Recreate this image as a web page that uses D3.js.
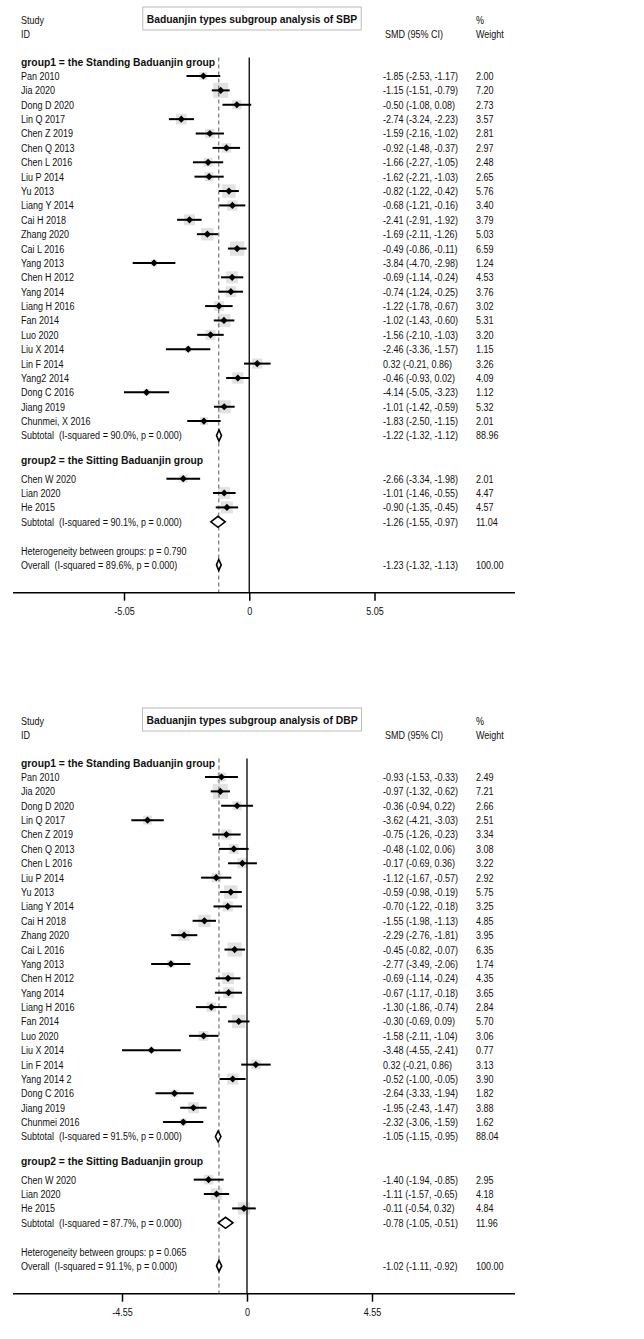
<!DOCTYPE html>
<html>
<head>
<meta charset="utf-8">
<script src="https://cdn.jsdelivr.net/npm/d3@7"></script>
<style>
  body { margin: 0; background: #fff; }
  text { font-family: 'Liberation Sans', Arial, sans-serif; fill: #111; white-space: pre; }
</style>
</head>
<body>
<div id="chart"></div>
<script>
// ---- data: SBP ----
var sbpNames1 = ['Pan 2010','Jia 2020','Dong D 2020','Lin Q 2017','Chen Z 2019','Chen Q 2013','Chen L 2016',
  'Liu P 2014','Yu 2013','Liang Y 2014','Cai H 2018','Zhang 2020','Cai L 2016','Yang 2013','Chen H 2012',
  'Yang 2014','Liang H 2016','Fan 2014','Luo 2020','Liu X 2014','Lin F 2014','Yang2 2014','Dong C 2016',
  'Jiang 2019','Chunmei, X 2016'];
var sbpSmd1 = [[-1.85,-2.53,-1.17],[-1.15,-1.51,-0.79],[-0.50,-1.08,0.08],[-2.74,-3.24,-2.23],[-1.59,-2.16,-1.02],
  [-0.92,-1.48,-0.37],[-1.66,-2.27,-1.05],[-1.62,-2.21,-1.03],[-0.82,-1.22,-0.42],[-0.68,-1.21,-0.16],
  [-2.41,-2.91,-1.92],[-1.69,-2.11,-1.26],[-0.49,-0.86,-0.11],[-3.84,-4.70,-2.98],[-0.69,-1.14,-0.24],
  [-0.74,-1.24,-0.25],[-1.22,-1.78,-0.67],[-1.02,-1.43,-0.60],[-1.56,-2.10,-1.03],[-2.46,-3.36,-1.57],
  [0.32,-0.21,0.86],[-0.46,-0.93,0.02],[-4.14,-5.05,-3.23],[-1.01,-1.42,-0.59],[-1.83,-2.50,-1.15]];
var sbpWeight1 = [2.00,7.20,2.73,3.57,2.81,2.97,2.48,2.65,5.76,3.40,3.79,5.03,6.59,1.24,4.53,3.76,3.02,5.31,
  3.20,1.15,3.26,4.09,1.12,5.32,2.01];
var sbpNames2 = ['Chen W 2020','Lian 2020','He 2015'];
var sbpSmd2 = [[-2.66,-3.34,-1.98],[-1.01,-1.46,-0.55],[-0.90,-1.35,-0.45]];
var sbpWeight2 = [2.01,4.47,4.57];
var sbpPooled = [[-1.22,-1.32,-1.12],[-1.26,-1.55,-0.97],[-1.23,-1.32,-1.13]]; // subtotal1, subtotal2, overall
var sbpPooledWeight = [88.96,11.04,100.00];
var sbpPooledLabels = ['Subtotal  (I-squared = 90.0%, p = 0.000)','Subtotal  (I-squared = 90.1%, p = 0.000)',
  'Overall  (I-squared = 89.6%, p = 0.000)'];
var sbpHet = 'Heterogeneity between groups: p = 0.790';
var sbpTicks = [-5.05, 0, 5.05];

// ---- data: DBP ----
var dbpNames1 = ['Pan 2010','Jia 2020','Dong D 2020','Lin Q 2017','Chen Z 2019','Chen Q 2013','Chen L 2016',
  'Liu P 2014','Yu 2013','Liang Y 2014','Cai H 2018','Zhang 2020','Cai L 2016','Yang 2013','Chen H 2012',
  'Yang 2014','Liang H 2016','Fan 2014','Luo 2020','Liu X 2014','Lin F 2014','Yang 2014 2','Dong C 2016',
  'Jiang 2019','Chunmei 2016'];
var dbpSmd1 = [[-0.93,-1.53,-0.33],[-0.97,-1.32,-0.62],[-0.36,-0.94,0.22],[-3.62,-4.21,-3.03],[-0.75,-1.26,-0.23],
  [-0.48,-1.02,0.06],[-0.17,-0.69,0.36],[-1.12,-1.67,-0.57],[-0.59,-0.98,-0.19],[-0.70,-1.22,-0.18],
  [-1.55,-1.98,-1.13],[-2.29,-2.76,-1.81],[-0.45,-0.82,-0.07],[-2.77,-3.49,-2.06],[-0.69,-1.14,-0.24],
  [-0.67,-1.17,-0.18],[-1.30,-1.86,-0.74],[-0.30,-0.69,0.09],[-1.58,-2.11,-1.04],[-3.48,-4.55,-2.41],
  [0.32,-0.21,0.86],[-0.52,-1.00,-0.05],[-2.64,-3.33,-1.94],[-1.95,-2.43,-1.47],[-2.32,-3.06,-1.59]];
var dbpWeight1 = [2.49,7.21,2.66,2.51,3.34,3.08,3.22,2.92,5.75,3.25,4.85,3.95,6.35,1.74,4.35,3.65,2.84,5.70,
  3.06,0.77,3.13,3.90,1.82,3.88,1.62];
var dbpNames2 = ['Chen W 2020','Lian 2020','He 2015'];
var dbpSmd2 = [[-1.40,-1.94,-0.85],[-1.11,-1.57,-0.65],[-0.11,-0.54,0.32]];
var dbpWeight2 = [2.95,4.18,4.84];
var dbpPooled = [[-1.05,-1.15,-0.95],[-0.78,-1.05,-0.51],[-1.02,-1.11,-0.92]];
var dbpPooledWeight = [88.04,11.96,100.00];
var dbpPooledLabels = ['Subtotal  (I-squared = 91.5%, p = 0.000)','Subtotal  (I-squared = 87.7%, p = 0.000)',
  'Overall  (I-squared = 91.1%, p = 0.000)'];
var dbpHet = 'Heterogeneity between groups: p = 0.065';
var dbpTicks = [-4.55, 0, 4.55];

var groupLabels = ['group1 = the Standing Baduanjin group','group2 = the Sitting Baduanjin group'];

var svg = d3.select('#chart').append('svg').
    attr('width', 644).
    attr('height', 1339);

var fmt = function(d) { return d.toFixed(2); };
var ciText = function(d) { return fmt(d[0]) + ' (' + fmt(d[1]) + ', ' + fmt(d[2]) + ')'; };

// narrow text like the original (condensed sans)
function txt(g, x, y, s, bold, anchor) {
    return g.append('text').
	attr('transform', 'translate(' + x + ',' + y + ') scale(' + (bold ? 0.94 : 0.82) + ',1)').
	attr('dy', '0.36em').
	attr('font-size', 11).
	attr('font-weight', bold ? 'bold' : 'normal').
	attr('text-anchor', anchor || 'start').
	text(s);
}

function drawPanel(top, title, ticks, range, names1, smd1, w1, names2, smd2, w2, pooled, pooledW, pooledLab, het) {
    var g = svg.append('g').attr('transform', 'translate(0,' + top + ')');
    var step = 14.38;
    var y0 = 76;
    var x = d3.scaleLinear().domain([ticks[0], ticks[2]]).range(range);

    // row positions
    var ys1 = names1.map(function(d, i) { return y0 + i * step; });
    var ySub1 = y0 + names1.length * step;
    var yHead2 = ySub1 + 1.7 * step;
    var ys2 = names2.map(function(d, i) { return ySub1 + (3 + i) * step; });
    var ySub2 = ySub1 + (3 + names2.length) * step;
    var yHet = ySub2 + 2 * step;
    var yAll = yHet + step;
    var yAxis = yAll + 1.93 * step;
    var yTopLine = y0 - step - 4;

    // header
    txt(g, 21, 20, 'Study');
    txt(g, 21, 34, 'ID');
    txt(g, 385, 34, 'SMD (95% CI)');
    txt(g, 476, 20, '%');
    txt(g, 476, 34, 'Weight');

    // title box
    var tbox = g.append('rect').attr('fill', '#fff').attr('stroke', '#bbb').attr('stroke-width', 1);
    var tt = txt(g, 252, 19, title, true, 'middle');
    var tw = tt.node().getComputedTextLength() * 0.94;
    tbox.attr('x', 252 - tw / 2 - 4).attr('y', 7).attr('width', tw + 8).attr('height', 23);

    // weight squares
    var studies = smd1.map(function(d, i) { return {smd: d, w: w1[i], y: ys1[i], name: names1[i]}; }).
	concat(smd2.map(function(d, i) { return {smd: d, w: w2[i], y: ys2[i], name: names2[i]}; }));
    g.selectAll('.sq').data(studies).enter().append('rect').
	attr('x', function(d) { return x(d.smd[0]) - 2.8 * Math.sqrt(d.w); }).
	attr('y', function(d) { return d.y - 2.8 * Math.sqrt(d.w); }).
	attr('width', function(d) { return 5.6 * Math.sqrt(d.w); }).
	attr('height', function(d) { return 5.6 * Math.sqrt(d.w); }).
	attr('fill', '#e2e2e2');

    // reference lines
    g.append('line').attr('x1', x(0)).attr('x2', x(0)).attr('y1', yTopLine).attr('y2', yAxis).
	attr('stroke', '#000').attr('stroke-width', 1.3);
    g.append('line').attr('x1', x(pooled[2][0])).attr('x2', x(pooled[2][0])).attr('y1', yTopLine).attr('y2', yAxis).
	attr('stroke', '#777').attr('stroke-width', 1.2).attr('stroke-dasharray', '4,3');

    // CIs and point markers
    g.selectAll('.ci').data(studies).enter().append('line').
	attr('x1', function(d) { return x(d.smd[1]); }).
	attr('x2', function(d) { return x(d.smd[2]); }).
	attr('y1', function(d) { return d.y; }).
	attr('y2', function(d) { return d.y; }).
	attr('stroke', '#000').attr('stroke-width', 2);
    g.selectAll('.pt').data(studies).enter().append('path').
	attr('d', function(d) {
	    var cx = x(d.smd[0]), r = 3.6;
	    return 'M' + (cx - r) + ',' + d.y + 'L' + cx + ',' + (d.y - r) + 'L' + (cx + r) + ',' + d.y + 'L' + cx + ',' + (d.y + r) + 'Z';
	}).
	attr('fill', '#000');

    // pooled diamonds
    var pys = [ySub1, ySub2, yAll];
    g.selectAll('.dia').data(pooled).enter().append('path').
	attr('d', function(d, i) {
	    var y = pys[i], h = 5.5;
	    return 'M' + x(d[1]) + ',' + y + 'L' + x(d[0]) + ',' + (y - h) + 'L' + x(d[2]) + ',' + y + 'L' + x(d[0]) + ',' + (y + h) + 'Z';
	}).
	attr('fill', '#fff').attr('stroke', '#000').attr('stroke-width', 1.6);

    // labels
    txt(g, 21, y0 - step, groupLabels[0], true);
    txt(g, 21, yHead2, groupLabels[1], true);
    studies.forEach(function(d) {
	txt(g, 21, d.y, d.name);
	txt(g, 383, d.y, ciText(d.smd));
	txt(g, 476, d.y, fmt(d.w));
    });
    pooled.forEach(function(d, i) {
	txt(g, 21, pys[i], pooledLab[i]);
	txt(g, 383, pys[i], ciText(d));
	txt(g, 476, pys[i], fmt(pooledW[i]));
    });
    txt(g, 21, yHet, het);

    // x axis
    g.append('line').attr('x1', 13).attr('x2', 515).attr('y1', yAxis).attr('y2', yAxis).
	attr('stroke', '#000').attr('stroke-width', 1.5);
    var ax = g.append('g').attr('transform', 'translate(0,' + yAxis + ')').
	call(d3.axisBottom(x).tickValues(ticks).tickSize(8).tickPadding(7).
	     tickFormat(function(d) { return d === 0 ? '0' : d.toFixed(2); }));
    ax.select('.domain').remove();
    ax.selectAll('line').attr('stroke-width', 1.5);
    ax.selectAll('text').attr('font-size', 11).attr('fill', '#111').
	attr('font-family', "'Liberation Sans', Arial, sans-serif").
	attr('transform', 'scale(0.82,1)').
	attr('x', function(d) { return 0; });
}

drawPanel(0, 'Baduanjin types subgroup analysis of SBP', sbpTicks, [124, 374.5],
	  sbpNames1, sbpSmd1, sbpWeight1, sbpNames2, sbpSmd2, sbpWeight2,
	  sbpPooled, sbpPooledWeight, sbpPooledLabels, sbpHet);
drawPanel(701, 'Baduanjin types subgroup analysis of DBP', dbpTicks, [122, 372],
	  dbpNames1, dbpSmd1, dbpWeight1, dbpNames2, dbpSmd2, dbpWeight2,
	  dbpPooled, dbpPooledWeight, dbpPooledLabels, dbpHet);
</script>
</body>
</html>
